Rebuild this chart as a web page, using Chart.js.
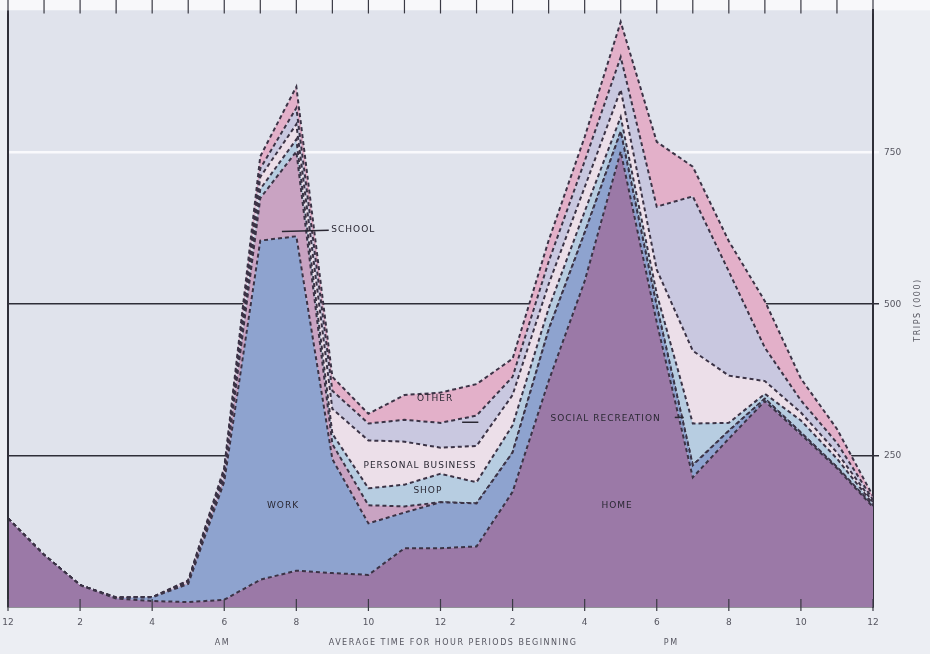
<!DOCTYPE html>
<html>
<head>
<meta charset="utf-8">
<script src="https://cdn.jsdelivr.net/npm/chart.js@4.4.1/dist/chart.umd.min.js"></script>
<style>
  html,body{margin:0;padding:0;background:#eceef3;}
  #wrap{width:930px;height:654px;}
</style>
</head>
<body>
<div id="wrap"><canvas id="c" width="930" height="654"></canvas></div>
<script>
// hour periods, midnight to midnight
const hours = ['0','1','2','3','4','5','6','7','8','9','10','11','12','13','14','15','16','17','18','19','20','21','22','23','24'];
const tickLabels = ['12','2','4','6','8','10','12','2','4','6','8','10','12'];
const yTicks = [250, 500, 750];

// trips (000) by purpose, stacked bottom to top
const home   = [146, 86, 36, 14, 10,  8, 12, 45, 60, 56, 53, 97, 97,100,190,373,538,752,470,214,278,340,285,229,165];
const work   = [  0,  0,  0,  1,  6, 30,195,560,552,188, 85, 59, 76, 71, 65, 85, 80, 33, 27, 20, 13,  4,  3,  2,  2];
const school = [  0,  0,  0,  0,  0,  2,  8, 70,140, 25, 30, 10,  0,  0,  0,  0,  0,  0,  0,  0,  0,  0,  0,  0,  0];
const shop   = [  0,  0,  0,  0,  0,  1,  4, 15, 20, 17, 28, 36, 47, 35, 45, 35, 35, 24, 20, 69, 13,  8, 20, 14,  3];
const personal = [0, 0,  0,  0,  0,  1,  4, 20, 25, 41, 79, 71, 43, 60, 50, 40, 40, 45, 40,120, 78, 21, 13, 10,  3];
const social = [  0,  0,  0,  0,  0,  1,  3, 14, 27, 30, 28, 36, 41, 50, 30, 37, 43, 54,104,255,172, 55, 20, 16,  4];
const other  = [  0,  0,  0,  1,  0,  1,  4, 20, 35, 23, 16, 41, 50, 52, 30, 35, 40, 58,107, 49, 50, 77, 36, 23,  6];

const ink = '#3b3346';
function layer(label, data, color, fill){
  return {label, data, backgroundColor: color, borderColor: ink, borderWidth: 2,
    borderDash: [4,3], pointRadius: 0, tension: 0, fill};
}

// in-chart labels, placed in data coordinates (hour index, trips)
const notes = [
  {t:'SCHOOL', h:8.97, v:623, a:'left'},
  {t:'OTHER', h:11.85, v:344, a:'center'},
  {t:'SOCIAL RECREATION', h:15.05, v:311, a:'left'},
  {t:'PERSONAL BUSINESS', h:11.43, v:234, a:'center'},
  {t:'SHOP', h:11.65, v:192, a:'center'},
  {t:'WORK', h:7.63, v:168, a:'center'},
  {t:'HOME', h:16.9, v:168, a:'center'}
];
const leaders = [
  [7.6, 620, 8.9, 622],
  [12.6, 305, 13.05, 305],
  [18.5, 313, 18.75, 313]
];

const decor = {
  id:'decor',
  beforeDraw(chart){
    const {ctx, chartArea:a} = chart;
    ctx.save();
    ctx.fillStyle = '#eceef3';
    ctx.fillRect(0,0,chart.width,chart.height);
    ctx.fillStyle = '#f8f8fa';
    ctx.fillRect(0,0,chart.width,a.top);
    ctx.fillStyle = '#e0e3ec';
    ctx.fillRect(a.left,a.top,a.right-a.left,a.bottom-a.top);
    ctx.restore();
  },
  afterDraw(chart){
    const {ctx, chartArea:a} = chart;
    const x = chart.scales.x, y = chart.scales.y;
    ctx.save();
    // left frame
    ctx.strokeStyle = '#2f2f38'; ctx.lineWidth = 2;
    ctx.beginPath(); ctx.moveTo(a.left, a.top); ctx.lineTo(a.left, a.bottom); ctx.stroke();
    // bottom tick marks at 2-hour steps, hourly marks along top
    ctx.lineWidth = 1.2; ctx.strokeStyle = '#3a3a44';
    for(let i=0;i<hours.length;i++){
      const px = x.getPixelForValue(i);
      ctx.beginPath();
      if(i%2===0){ ctx.moveTo(px, a.bottom-8); ctx.lineTo(px, a.bottom+4); }
      ctx.moveTo(px, 0); ctx.lineTo(px, a.top+3);
      ctx.stroke();
    }
    // notes
    ctx.fillStyle = '#2a2833';
    ctx.font = '9px "DejaVu Sans"';
    ctx.letterSpacing = '1px';
    ctx.textBaseline = 'middle';
    notes.forEach(n=>{
      ctx.textAlign = n.a;
      ctx.fillText(n.t, x.getPixelForValue(n.h), y.getPixelForValue(n.v));
    });
    ctx.strokeStyle = '#2a2833'; ctx.lineWidth = 1.5;
    leaders.forEach(l=>{
      ctx.beginPath();
      ctx.moveTo(x.getPixelForValue(l[0]), y.getPixelForValue(l[1]));
      ctx.lineTo(x.getPixelForValue(l[2]), y.getPixelForValue(l[3]));
      ctx.stroke();
    });
    // axis captions
    ctx.fillStyle = '#55555f';
    ctx.font = '8px "DejaVu Sans"';
    ctx.letterSpacing = '1.5px';
    ctx.textAlign = 'center';
    ctx.fillText('AVERAGE TIME FOR HOUR PERIODS BEGINNING', x.getPixelForValue(12.35), 643);
    ctx.fillText('AM', x.getPixelForValue(5.95), 643);
    ctx.fillText('PM', x.getPixelForValue(18.4), 643);
    ctx.translate(918, 310);
    ctx.rotate(-Math.PI/2);
    ctx.fillText('TRIPS (000)', 0, 0);
    ctx.restore();
  }
};

new Chart(document.getElementById('c'), {
  type:'line',
  data:{
    labels: hours,
    datasets:[
      layer('Home', home, '#9b79a7', 'origin'),
      layer('Work', work, '#8ea3cf', '-1'),
      layer('School', school, '#c9a3c2', '-1'),
      layer('Shop', shop, '#b7cde1', '-1'),
      layer('Personal business', personal, '#ecdfe9', '-1'),
      layer('Social recreation', social, '#c9c8e0', '-1'),
      layer('Other', other, '#e3b0c9', '-1')
    ]
  },
  options:{
    responsive:false,
    animation:false,
    devicePixelRatio:1,
    layout:{padding:{top:8,left:8,right:0,bottom:0}},
    plugins:{legend:{display:false}, tooltip:{enabled:false}},
    scales:{
      x:{
        type:'category',
        offset:false,
        grid:{display:false},
        border:{display:true, color:'#34343c', width:1.5},
        ticks:{autoSkip:false, maxRotation:0, padding:2, color:'#55555f',
          font:{family:'DejaVu Sans', size:9},
          callback:(v,i)=> i%2===0 ? tickLabels[i/2] : ''},
        afterFit(s){ s.height = 47; }
      },
      y:{
        position:'right',
        stacked:true,
        min:0, max:985,
        z:1,
        border:{display:true, color:'#2f2f38', width:2},
        grid:{
          color:c=> c.tick.value===750 ? 'rgba(250,250,253,0.95)' : '#2e2e38',
          lineWidth:c=> c.tick.value===750 ? 2.5 : 1.5,
          tickLength:6
        },
        afterBuildTicks(s){ s.ticks = yTicks.map(v=>({value:v})); },
        ticks:{padding:5, color:'#55555f', font:{family:'DejaVu Sans', size:9}},
        afterFit(s){ s.width = 57; }
      }
    }
  },
  plugins:[decor]
});
</script>
</body>
</html>
